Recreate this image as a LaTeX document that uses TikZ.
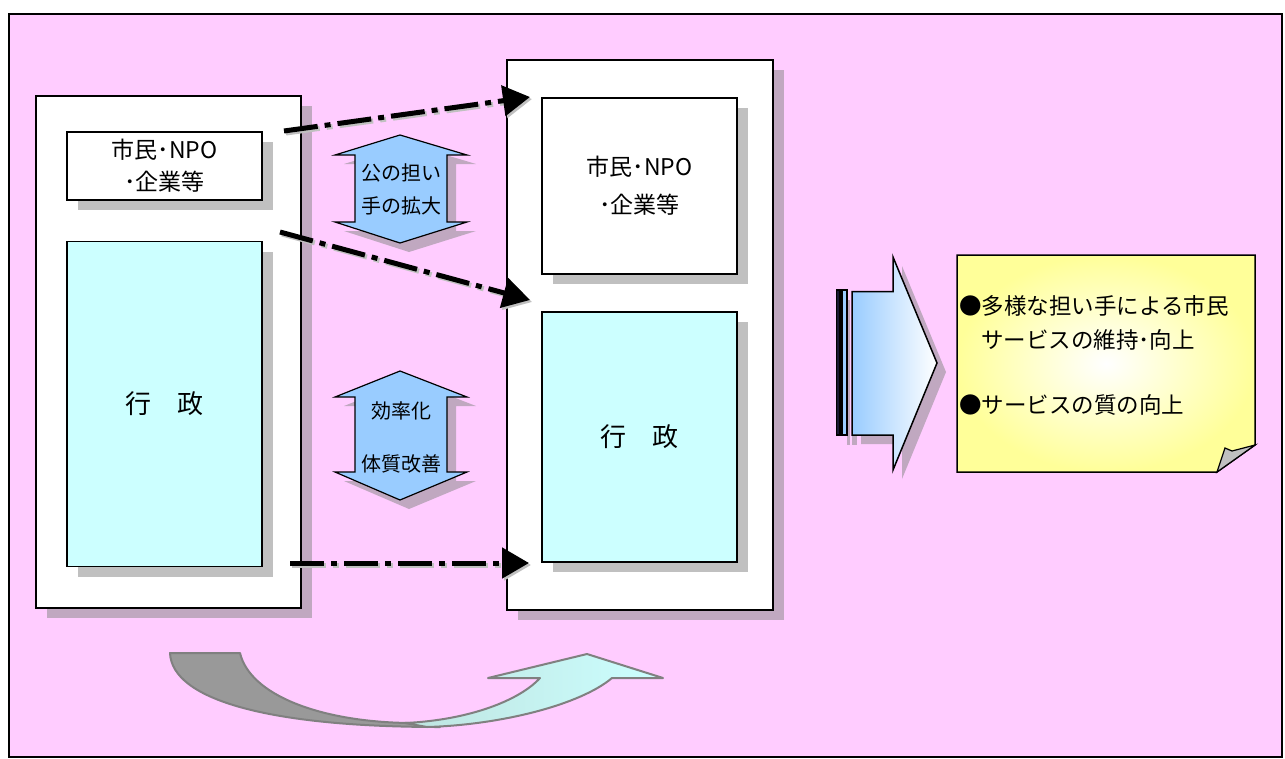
\documentclass[tikz,border=0pt]{standalone}
\usepackage{fontspec}
\setmainfont{Noto Sans CJK JP}
\usetikzlibrary{shadows,arrows.meta}
\definecolor{pinkbg}{RGB}{255,204,255}
\definecolor{cyanbox}{RGB}{204,255,255}
\definecolor{arrowblue}{RGB}{153,204,255}
\definecolor{shadowP}{RGB}{192,168,192}
\definecolor{shadowG}{RGB}{192,192,192}
\definecolor{noteyellow}{RGB}{255,255,153}
\definecolor{curvegray}{RGB}{153,153,153}
\definecolor{curveline}{RGB}{128,128,128}
\definecolor{barnavy}{RGB}{25,25,50}
\begin{document}
\begin{tikzpicture}[x=1pt,y=-1pt,
  shP/.style={drop shadow={shadow xshift=11pt,shadow yshift=-10pt,fill=shadowP,opacity=1}},
  shG/.style={drop shadow={shadow xshift=11pt,shadow yshift=-10pt,fill=shadowG,opacity=1}},
  shA/.style={drop shadow={shadow xshift=9pt,shadow yshift=-9pt,fill=shadowP,opacity=1}},
  box/.style={draw=black,line width=1.2pt,inner sep=0pt,align=center},
  dd/.style={draw=black,line width=5pt,dash pattern=on 34pt off 7pt on 6pt off 7pt,
    -{Triangle[length=27pt,width=30pt]}},
  ddsh/.style={draw=shadowG,line width=5pt,dash pattern=on 34pt off 7pt on 6pt off 7pt,
    -{Triangle[length=27pt,width=30pt]},transform canvas={xshift=2pt,yshift=-2pt}},
  dbl/.style={draw=black,line width=1.2pt,fill=arrowblue,shA},
  lbl/.style={align=center,inner sep=0pt}
]
\useasboundingbox (0,0) rectangle (1285,758);
% frame
\path[fill=white] (0,0) rectangle (1285,758);
\draw[line width=2pt,fill=pinkbg] (9,14) rectangle (1282,757);

% left column
\node[box,fill=white,shP,minimum width=265pt,minimum height=512pt] (L) at (168.5,352) {};
\node[box,fill=white,shG,minimum width=195pt,minimum height=68pt,
  font=\fontsize{23}{32}\selectfont] (Lc) at (164.5,166) {市民･NPO\\･企業等};
\node[box,fill=cyanbox,shG,minimum width=195pt,minimum height=325pt,
  font=\fontsize{26}{30}\selectfont] (Lg) at (164.5,404) {行　政};

% right column
\node[box,fill=white,shP,minimum width=266pt,minimum height=550pt] (R) at (640,335) {};
\node[box,fill=white,shG,minimum width=195pt,minimum height=176pt,
  font=\fontsize{23}{38}\selectfont] (Rc) at (639.5,186) {市民･NPO\\･企業等};
\node[box,fill=cyanbox,shG,minimum width=195pt,minimum height=250pt,
  font=\fontsize{26}{30}\selectfont] (Rg) at (639.5,437) {行　政};

% double arrows
\path[dbl] (400,135) -- (467,155) -- (447,155) -- (447,222) -- (467,222) -- (400,243)
  -- (335,222) -- (355,222) -- (355,155) -- (335,155) -- cycle;
\node[lbl,font=\fontsize{20}{33}\selectfont] (t1) at (401,189) {公の担い\\手の拡大};
\path[dbl] (400,371) -- (467,397) -- (447,397) -- (447,472) -- (467,472) -- (400,500)
  -- (335,472) -- (355,472) -- (355,397) -- (335,397) -- cycle;
\node[lbl,font=\fontsize{20}{53}\selectfont] (t2) at (401,437) {効率化\\体質改善};

% dash-dot arrows
\coordinate (a1s) at (284,131); \coordinate (a1e) at (530,97);
\coordinate (a2s) at (280,232); \coordinate (a2e) at (530,300);
\coordinate (a3s) at (290,563); \coordinate (a3e) at (529,563);
\draw[ddsh] (a1s) -- (a1e);
\draw[ddsh] (a2s) -- (a2e);
\draw[ddsh] (a3s) -- (a3e);
\draw[dd] (a1s) -- (a1e);
\draw[dd] (a2s) -- (a2e);
\draw[dd] (a3s) -- (a3e);

% big right arrow
\fill[shadowP] (846.7,300) rectangle (850,445);
\fill[shadowP] (852,300) rectangle (857,445);
\draw[line width=1.2pt,fill=barnavy] (836.7,290) rectangle (840,435);
\draw[line width=1.2pt,fill=arrowblue] (842,290) rectangle (847,435);
\path[draw=black,line width=1.5pt,left color=arrowblue,right color=white,shA]
  (852,291.7) -- (893,291.7) -- (893,257) -- (937,363) -- (893,470) -- (893,435)
  -- (852,435) -- cycle;

% note
\path[draw=black,line width=1.5pt,inner color=white,outer color=noteyellow]
  (957,255) -- (1255,255) -- (1255,445) -- (1217,472) -- (957,472) -- cycle;
\draw[line width=1.2pt,fill=shadowG] (1217,472) -- (1225,448) -- (1232,451) -- (1255,445) -- cycle;
\node[anchor=base west,align=left,inner sep=0pt,font=\fontsize{22.5}{34}\selectfont] (nt)
  at (959,413) {●多様な担い手による市民\\\hspace*{22pt}サービスの維持･向上\\[31pt]●サービスの質の向上};

% curved arrow
\path[draw=curveline,line width=2pt,fill=curvegray,line join=round]
  (170,653) -- (240,653) .. controls (250,695) and (320,722) .. (410,723)
  -- (440,727) .. controls (270,727) and (172,700) .. (170,653) -- cycle;
\path[draw=curveline,line width=2pt,left color={rgb,255:red,190;green,228;blue,224},
  right color=cyanbox,line join=round]
  (405,723) .. controls (470,720) and (520,700) .. (540,678) -- (488,678) -- (587,654)
  -- (663,678) -- (612,678) .. controls (580,705) and (500,725) .. (427,727) -- cycle;
\end{tikzpicture}
\end{document}
